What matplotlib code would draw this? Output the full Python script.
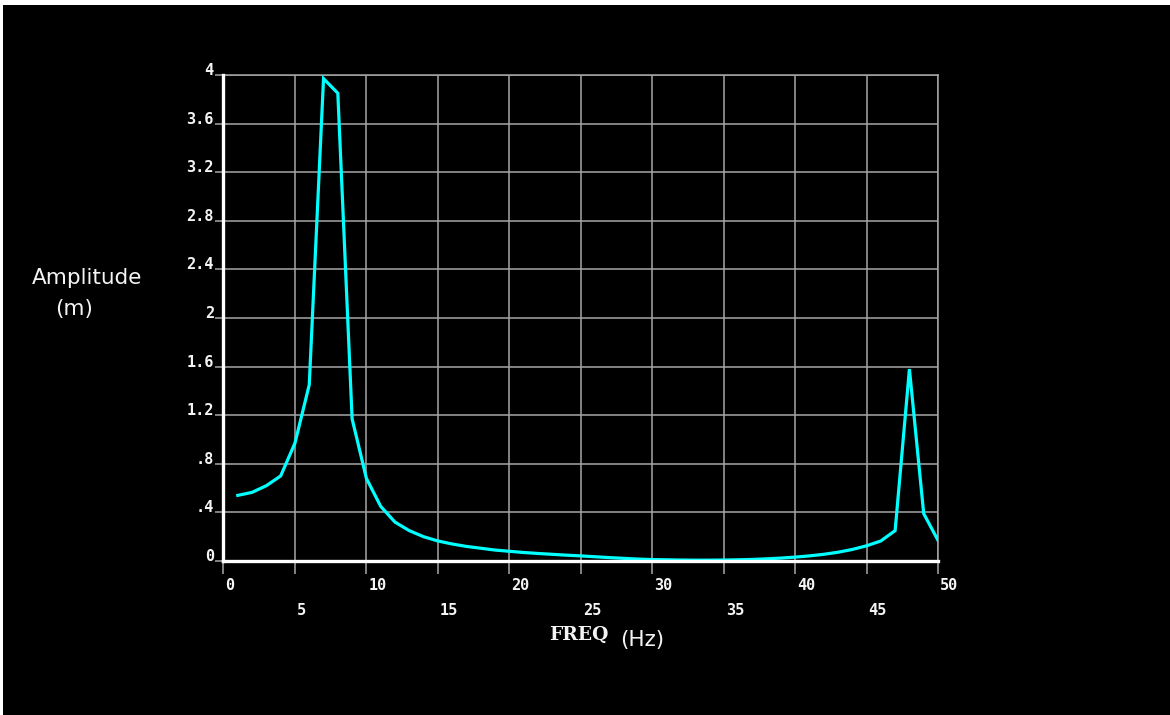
import matplotlib.pyplot as plt
from matplotlib.patches import Rectangle
from matplotlib.ticker import FixedLocator
import matplotlib.transforms as mtransforms

# === data ===
freq = list(range(1, 51))
amplitude = [0.54, 0.565, 0.62, 0.70, 0.97, 1.45, 3.97, 3.85, 1.17, 0.68,
             0.45, 0.32, 0.25, 0.20, 0.165, 0.14, 0.12, 0.105, 0.09, 0.08,
             0.07, 0.062, 0.055, 0.048, 0.042, 0.035, 0.028, 0.022, 0.016, 0.012,
             0.010, 0.008, 0.007, 0.007, 0.008, 0.010, 0.013, 0.018, 0.024, 0.032,
             0.042, 0.055, 0.072, 0.095, 0.125, 0.165, 0.25, 1.58, 0.39, 0.17]

x_major = [0, 10, 20, 30, 40, 50]
x_minor = [5, 15, 25, 35, 45]
y_ticks = [0, 0.4, 0.8, 1.2, 1.6, 2.0, 2.4, 2.8, 3.2, 3.6, 4.0]
y_labels = ['0', '.4', '.8', '1.2', '1.6', '2', '2.4', '2.8', '3.2', '3.6', '4']

GRID = '#a6a6a6'
CYAN = '#00ffff'
TXT = '#f4f4f4'

fig = plt.figure(figsize=(11.7, 7.15), dpi=100, facecolor='black')
# white strips on top and left edges
fig.patches.append(Rectangle((0, 1 - 5 / 715), 1, 5 / 715, transform=fig.transFigure,
                             facecolor='white', edgecolor='none'))
fig.patches.append(Rectangle((0, 0), 3 / 1170, 1, transform=fig.transFigure,
                             facecolor='white', edgecolor='none'))

ax = fig.add_axes([223.5 / 1170, 1 - 561 / 715, (938 - 223.5) / 1170, (561 - 75) / 715])
ax.set_facecolor('black')
ax.set_xlim(0, 50)
ax.set_ylim(0, 4)

ax.plot(freq, amplitude, color=CYAN, linewidth=2.3, solid_joinstyle='miter', zorder=3)

# grid
for xv in x_major + x_minor:
    ax.axvline(xv, color=GRID, linewidth=1.1, zorder=1)
for yv in y_ticks:
    ax.axhline(yv, color=GRID, linewidth=1.1, zorder=1)

for side in ['top', 'right']:
    ax.spines[side].set_color(GRID)
    ax.spines[side].set_linewidth(1.1)
for side in ['left', 'bottom']:
    ax.spines[side].set_color('white')
    ax.spines[side].set_linewidth(2.4)
    ax.spines[side].set_zorder(4)

mono = 'DejaVu Sans Mono'

# x ticks: even values on the upper row, odd values lower
ax.xaxis.set_major_locator(FixedLocator(x_major))
ax.xaxis.set_minor_locator(FixedLocator(x_minor))
ax.set_xticklabels([str(v) for v in x_major])
ax.set_xticklabels([str(v) for v in x_minor], minor=True)
ax.tick_params(axis='x', which='major', length=9, width=1.1, color=GRID,
               pad=3, labelsize=11, labelcolor=TXT)
ax.tick_params(axis='x', which='minor', length=9, width=1.1, color=GRID,
               pad=21, labelsize=11, labelcolor=TXT)
shift = mtransforms.ScaledTranslation(2 / 100, 0, fig.dpi_scale_trans)
for lab in ax.get_xticklabels() + ax.get_xticklabels(minor=True):
    lab.set_horizontalalignment('left')
    lab.set_fontfamily(mono)
    lab.set_fontweight('bold')
    lab.set_transform(lab.get_transform() + shift)

ax.set_yticks(y_ticks)
ax.set_yticklabels(y_labels)
ax.tick_params(axis='y', length=6, width=1.1, color=GRID, pad=1,
               labelsize=11, labelcolor=TXT)
for lab in ax.get_yticklabels():
    lab.set_fontfamily(mono)
    lab.set_fontweight('bold')
    lab.set_verticalalignment('baseline')

# axis titles
fig.text(87 / 1170, 1 - 278 / 715, 'Amplitude', color=TXT, fontsize=15.5,
         family='DejaVu Sans', ha='center', va='center')
fig.text(74 / 1170, 1 - 309 / 715, '(m)', color=TXT, fontsize=15.5,
         family='DejaVu Sans', ha='center', va='center')
fig.text(579 / 1170, 1 - 635 / 715, 'FREQ', color=TXT, fontsize=13.5,
         family='DejaVu Serif', weight='bold', ha='center', va='center')
fig.text(642 / 1170, 1 - 640 / 715, '(Hz)', color=TXT, fontsize=15.5,
         family='DejaVu Sans', ha='center', va='center')

fig.savefig('out.png', dpi=100, facecolor='black')
plt.close(fig)
